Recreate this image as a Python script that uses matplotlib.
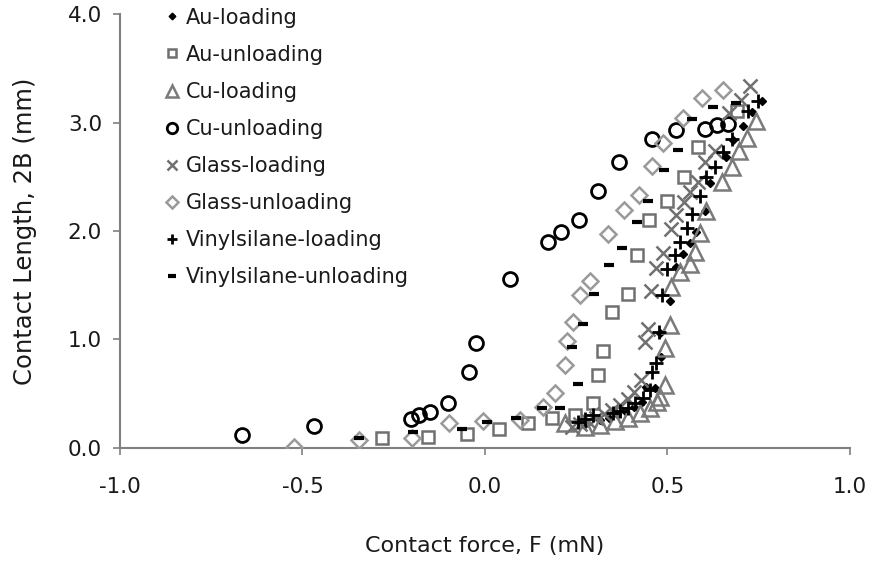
import matplotlib.pyplot as plt

# contact force F (mN) and contact length 2B (mm) per surface and direction
au_load_f = [0.274, 0.315, 0.340, 0.362, 0.384, 0.408, 0.430, 0.443, 0.466, 0.484, 0.479,
             0.507, 0.525, 0.543, 0.562, 0.580, 0.603, 0.616, 0.660, 0.680, 0.708, 0.733, 0.760]
au_load_l = [0.22, 0.26, 0.28, 0.31, 0.34, 0.38, 0.42, 0.56, 0.55, 0.84, 1.06,
             1.35, 1.67, 1.79, 1.89, 1.99, 2.18, 2.44, 2.68, 2.84, 2.97, 3.10, 3.20]

au_unload_f = [-0.283, -0.157, -0.050, 0.039, 0.117, 0.184, 0.247, 0.297, 0.310, 0.324,
               0.349, 0.393, 0.416, 0.449, 0.498, 0.546, 0.584, 0.690]
au_unload_l = [0.09, 0.10, 0.13, 0.17, 0.23, 0.28, 0.30, 0.41, 0.67, 0.89,
               1.25, 1.42, 1.78, 2.10, 2.28, 2.50, 2.77, 3.11]

cu_load_f = [0.219, 0.274, 0.315, 0.356, 0.392, 0.425, 0.452, 0.471, 0.479, 0.493, 0.493,
             0.507, 0.509, 0.534, 0.562, 0.575, 0.589, 0.607, 0.650, 0.676, 0.697, 0.719, 0.743]
cu_load_l = [0.23, 0.19, 0.21, 0.25, 0.28, 0.32, 0.37, 0.42, 0.47, 0.58, 0.92,
             1.13, 1.48, 1.62, 1.70, 1.81, 1.98, 2.18, 2.45, 2.59, 2.74, 2.86, 3.01]

cu_unload_f = [-0.665, -0.467, -0.203, -0.181, -0.150, -0.101, -0.044, -0.025, 0.070,
               0.173, 0.208, 0.259, 0.310, 0.367, 0.458, 0.524, 0.604, 0.636, 0.667]
cu_unload_l = [0.12, 0.20, 0.27, 0.30, 0.33, 0.41, 0.70, 0.97, 1.56,
               1.90, 1.99, 2.10, 2.37, 2.64, 2.85, 2.93, 2.94, 2.98, 2.99]

glass_load_f = [0.238, 0.260, 0.282, 0.304, 0.326, 0.348, 0.370, 0.392, 0.408, 0.429, 0.438,
                0.447, 0.455, 0.470, 0.489, 0.509, 0.523, 0.545, 0.562, 0.583, 0.603, 0.630,
                0.669, 0.701, 0.726]
glass_load_l = [0.19, 0.22, 0.25, 0.28, 0.31, 0.35, 0.40, 0.45, 0.52, 0.63, 0.98,
                1.10, 1.45, 1.66, 1.80, 2.02, 2.15, 2.27, 2.36, 2.45, 2.64, 2.74,
                3.09, 3.21, 3.34]

glass_unload_f = [-0.522, -0.344, -0.200, -0.098, -0.004, 0.095, 0.158, 0.192, 0.219, 0.224,
                  0.242, 0.260, 0.288, 0.338, 0.381, 0.423, 0.458, 0.489, 0.543, 0.594, 0.653]
glass_unload_l = [0.01, 0.07, 0.09, 0.23, 0.25, 0.26, 0.38, 0.51, 0.76, 0.99,
                  1.16, 1.41, 1.54, 1.97, 2.19, 2.33, 2.60, 2.81, 3.04, 3.23, 3.30]

vinyl_load_f = [0.256, 0.274, 0.297, 0.351, 0.370, 0.393, 0.411, 0.434, 0.452, 0.457, 0.470,
                0.478, 0.486, 0.498, 0.521, 0.534, 0.553, 0.569, 0.589, 0.605, 0.630, 0.653,
                0.676, 0.721, 0.749]
vinyl_load_l = [0.24, 0.27, 0.30, 0.32, 0.34, 0.37, 0.41, 0.46, 0.53, 0.70, 0.78,
                1.07, 1.41, 1.65, 1.78, 1.90, 2.03, 2.16, 2.32, 2.50, 2.59, 2.73,
                2.85, 3.11, 3.20]

vinyl_unload_f = [-0.344, -0.198, -0.064, 0.006, 0.085, 0.157, 0.205, 0.254, 0.240, 0.268,
                  0.300, 0.341, 0.375, 0.417, 0.447, 0.491, 0.530, 0.568, 0.625, 0.688]
vinyl_unload_l = [0.095, 0.15, 0.17, 0.24, 0.28, 0.37, 0.37, 0.59, 0.93, 1.14,
                  1.42, 1.69, 1.84, 2.08, 2.28, 2.56, 2.75, 3.03, 3.14, 3.18]

x_ticks = [-1.0, -0.5, 0.0, 0.5, 1.0]
y_ticks = [0.0, 1.0, 2.0, 3.0, 4.0]

plt.rcParams['font.family'] = ['DejaVu Sans']

fig = plt.figure(figsize=(8.76, 5.62), dpi=100)
ax = fig.add_axes([0.137, 0.203, 0.833, 0.772])

ax.plot(au_load_f, au_load_l, linestyle="none", marker="D", markersize=4.5,
        color="black", label="Au-loading")
ax.plot(au_unload_f, au_unload_l, linestyle="none", marker="s", markersize=8,
        markerfacecolor="none", markeredgecolor="#707070", markeredgewidth=1.8,
        label="Au-unloading")
ax.plot(cu_load_f, cu_load_l, linestyle="none", marker="^", markersize=11,
        markerfacecolor="none", markeredgecolor="#7a7a7a", markeredgewidth=1.8,
        label="Cu-loading")
ax.plot(cu_unload_f, cu_unload_l, linestyle="none", marker="o", markersize=10,
        markerfacecolor="none", markeredgecolor="black", markeredgewidth=2.0,
        label="Cu-unloading")
ax.plot(glass_load_f, glass_load_l, linestyle="none", marker="x", markersize=10,
        color="#707070", markeredgewidth=1.8, label="Glass-loading")
ax.plot(glass_unload_f, glass_unload_l, linestyle="none", marker="D", markersize=8,
        markerfacecolor="none", markeredgecolor="#9a9a9a", markeredgewidth=1.8,
        label="Glass-unloading")
ax.plot(vinyl_load_f, vinyl_load_l, linestyle="none", marker="+", markersize=10,
        color="black", markeredgewidth=2.0, label="Vinylsilane-loading")
ax.plot(vinyl_unload_f, vinyl_unload_l, linestyle="none", marker="_", markersize=7,
        color="black", markeredgewidth=3.0, label="Vinylsilane-unloading")

ax.set_xlim(-1.0, 1.0)
ax.set_ylim(0.0, 4.0)
ax.set_xticks(x_ticks)
ax.set_yticks(y_ticks)
ax.set_xticklabels([f"{v:.1f}" for v in x_ticks])
ax.set_yticklabels([f"{v:.1f}" for v in y_ticks])

for side in ("top", "right"):
    ax.spines[side].set_visible(False)
for side in ("left", "bottom"):
    ax.spines[side].set_color("#808080")
    ax.spines[side].set_linewidth(1.5)
    ax.spines[side].set_zorder(0)

ax.tick_params(axis="both", direction="out", length=5, width=1.2, color="#808080",
               labelsize=15.5, labelcolor="#1a1a1a")
ax.tick_params(axis="x", pad=16)
ax.tick_params(axis="y", pad=8)

ax.set_xlabel("Contact force, F (mN)", fontsize=16, color="#1a1a1a", labelpad=28)
ax.set_ylabel("Contact Length, 2B (mm)", fontsize=17.5, color="#1a1a1a", labelpad=22)

leg = ax.legend(loc="upper left", bbox_to_anchor=(0.05, 1.034), frameon=False,
                fontsize=15, handlelength=0.7, handletextpad=0.3,
                labelspacing=0.82, markerscale=0.75, borderaxespad=0)
for t in leg.get_texts():
    t.set_color("#1a1a1a")

fig.savefig("out.png", dpi=100)
